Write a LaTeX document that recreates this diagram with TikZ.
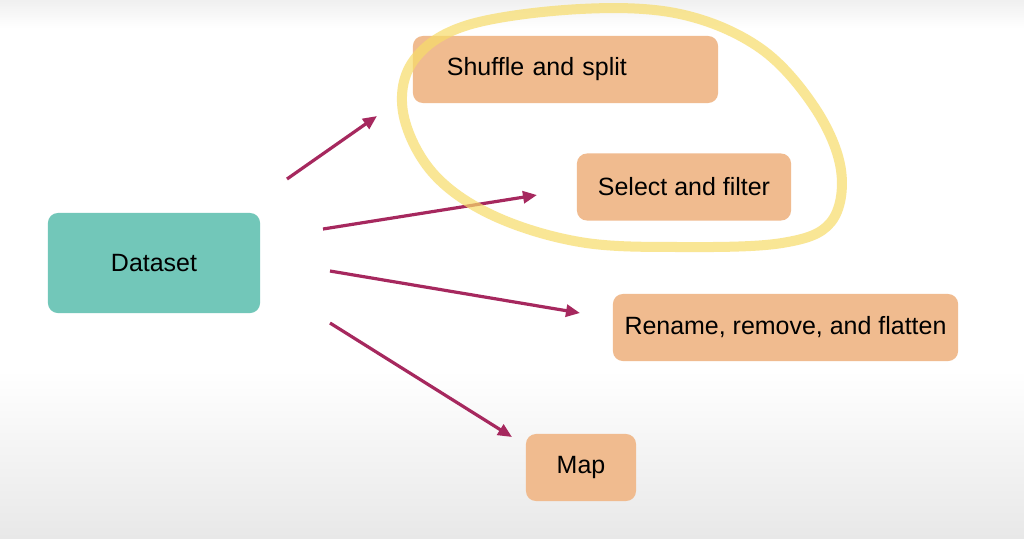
\documentclass[tikz,border=0pt]{standalone}
\usepackage{fontspec}
\setmainfont{Liberation Sans}
\usetikzlibrary{arrows.meta}
\definecolor{dsteal}{RGB}{114,199,185}
\definecolor{opsand}{RGB}{240,187,143}
\definecolor{arrowplum}{RGB}{166,40,94}
\definecolor{hiliteyel}{RGB}{247,220,105}
\tikzset{
  dsbox/.style={fill=dsteal,rounded corners=0.1cm,minimum width=2.12cm,minimum height=1.0cm,inner sep=0pt},
  opbox/.style={fill=opsand,rounded corners=0.1cm,minimum height=0.67cm,inner sep=0pt},
  flow/.style={arrowplum,line width=0.032cm,-{Triangle[length=0.14cm,width=0.12cm]}},
  hilite/.style={hiliteyel,line width=0.1cm,opacity=0.7,line join=round}
}
\begin{document}
\begin{tikzpicture}[x=0.01cm,y=-0.01cm,every node/.style={font=\fontsize{7.1}{8.5}\selectfont,text=black}]
\useasboundingbox (0,0) rectangle (1024,538);
\fill[white] (0,0) rectangle (1024,538);
\shade[top color=black!6,bottom color=white] (0,0) rectangle (1024,28);
\shade[top color=white,bottom color=black!9] (0,370) rectangle (1024,538);
\node[dsbox] (dataset) at (154,263) {Dataset};
\node[opbox,text width=2.37cm,inner xsep=0.34cm,align=left] (shuffle) at (565.5,69.5) {Shuffle and split};
\node[opbox,minimum width=2.14cm] (select) at (684,187) {Select and filter};
\node[opbox,minimum width=3.45cm] (rename) at (785.5,327.5) {Rename, remove, and flatten};
\node[opbox,minimum width=1.10cm] (map) at (581,467.5) {Map};
\coordinate (s1) at (287,179); \coordinate (e1) at (377,116);
\coordinate (s2) at (323,229); \coordinate (e2) at (537,195);
\coordinate (s3) at (330,271); \coordinate (e3) at (580,313);
\coordinate (s4) at (330,323); \coordinate (e4) at (512,437);
\foreach \k in {1,2,3,4} {\draw[flow] (s\k) -- (e\k);}
\draw[hilite] plot[smooth cycle,tension=0.6] coordinates {(580,9) (680,14) (760,48) (815,108) (841,170) (831,222) (782,243) (680,247) (580,242) (492,215) (432,172) (403,112) (414,60) (468,25)};
\end{tikzpicture}
\end{document}
